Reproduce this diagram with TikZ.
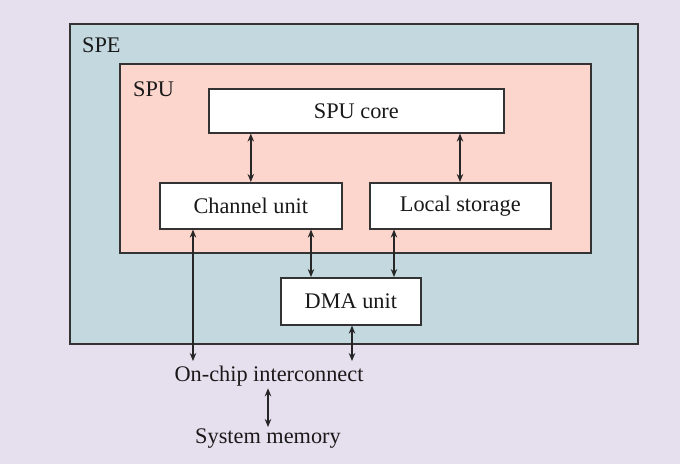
\documentclass[tikz,border=0pt]{standalone}
\usepackage{fontspec}
\setmainfont{Liberation Serif}
\usetikzlibrary{arrows.meta}
\definecolor{bgcol}{HTML}{E6DFEE}
\definecolor{specol}{HTML}{C4D9DF}
\definecolor{spucol}{HTML}{FCD5CC}
\definecolor{edgecol}{HTML}{333333}
\begin{document}
\begin{tikzpicture}[x=1pt,y=-1pt,
  font=\fontsize{22.3}{26}\selectfont,
  frame/.style={draw=edgecol,line width=1.6pt},
  unitbox/.style={frame,fill=white,inner sep=0pt,anchor=north west},
  label/.style={text=black!90,inner sep=1pt},
  link/.style={draw=black!85,line width=1.5pt,{Stealth[length=8pt,width=6.5pt]}-{Stealth[length=8pt,width=6.5pt]}}]
  % background
  \fill[bgcol] (0,0) rectangle (680,464);
  \useasboundingbox (0,0) rectangle (680,464);
  % nested containers
  \draw[frame,fill=specol] (70,24) rectangle (638,344);
  \node[label,anchor=base west] (spe) at (81,52) {SPE};
  \draw[frame,fill=spucol] (120,64) rectangle (591,253);
  \node[label,anchor=base west] (spu) at (132,96) {SPU};
  % functional units
  \node[unitbox,minimum width=295pt,minimum height=44pt] (core) at (208,88) {};
  \node[label] at (core.center) {SPU core};
  \node[unitbox,minimum width=182pt,minimum height=46pt] (cu) at (159,182) {};
  \node[label] at (cu.center) {Channel unit};
  \node[unitbox,minimum width=181pt,minimum height=46pt] (ls) at (369,182) {};
  \node[label] at (ls.center) {Local storage};
  \node[unitbox,minimum width=140pt,minimum height=47pt] (dma) at (280,277) {};
  \node[label] at (dma.center) {DMA unit};
  % external parts
  \node[label] (oci) at (269,376) {On-chip interconnect};
  \node[label] (mem) at (268,439) {System memory};
  % x positions of the side links and the end level above the interconnect
  \coordinate (xa) at (193,0);
  \coordinate (xb) at (311,0);
  \coordinate (xc) at (394,0);
  \coordinate (xd) at (352,0);
  \coordinate (xe) at (460,0);
  \coordinate (yoci) at (0,361);
  % links
  \draw[link] (cu.north) -- (cu.north |- core.south);
  \draw[link] (ls.north -| xe) -- (xe |- core.south);
  \draw[link] (cu.south -| xa) -- (xa |- yoci);
  \draw[link] (cu.south -| xb) -- (dma.north -| xb);
  \draw[link] (ls.south -| xc) -- (dma.north -| xc);
  \draw[link] (dma.south -| xd) -- (xd |- yoci);
  \draw[link,shorten <=1pt,shorten >=1pt] (oci.south -| mem.north) -- (mem.north);
\end{tikzpicture}
\end{document}
